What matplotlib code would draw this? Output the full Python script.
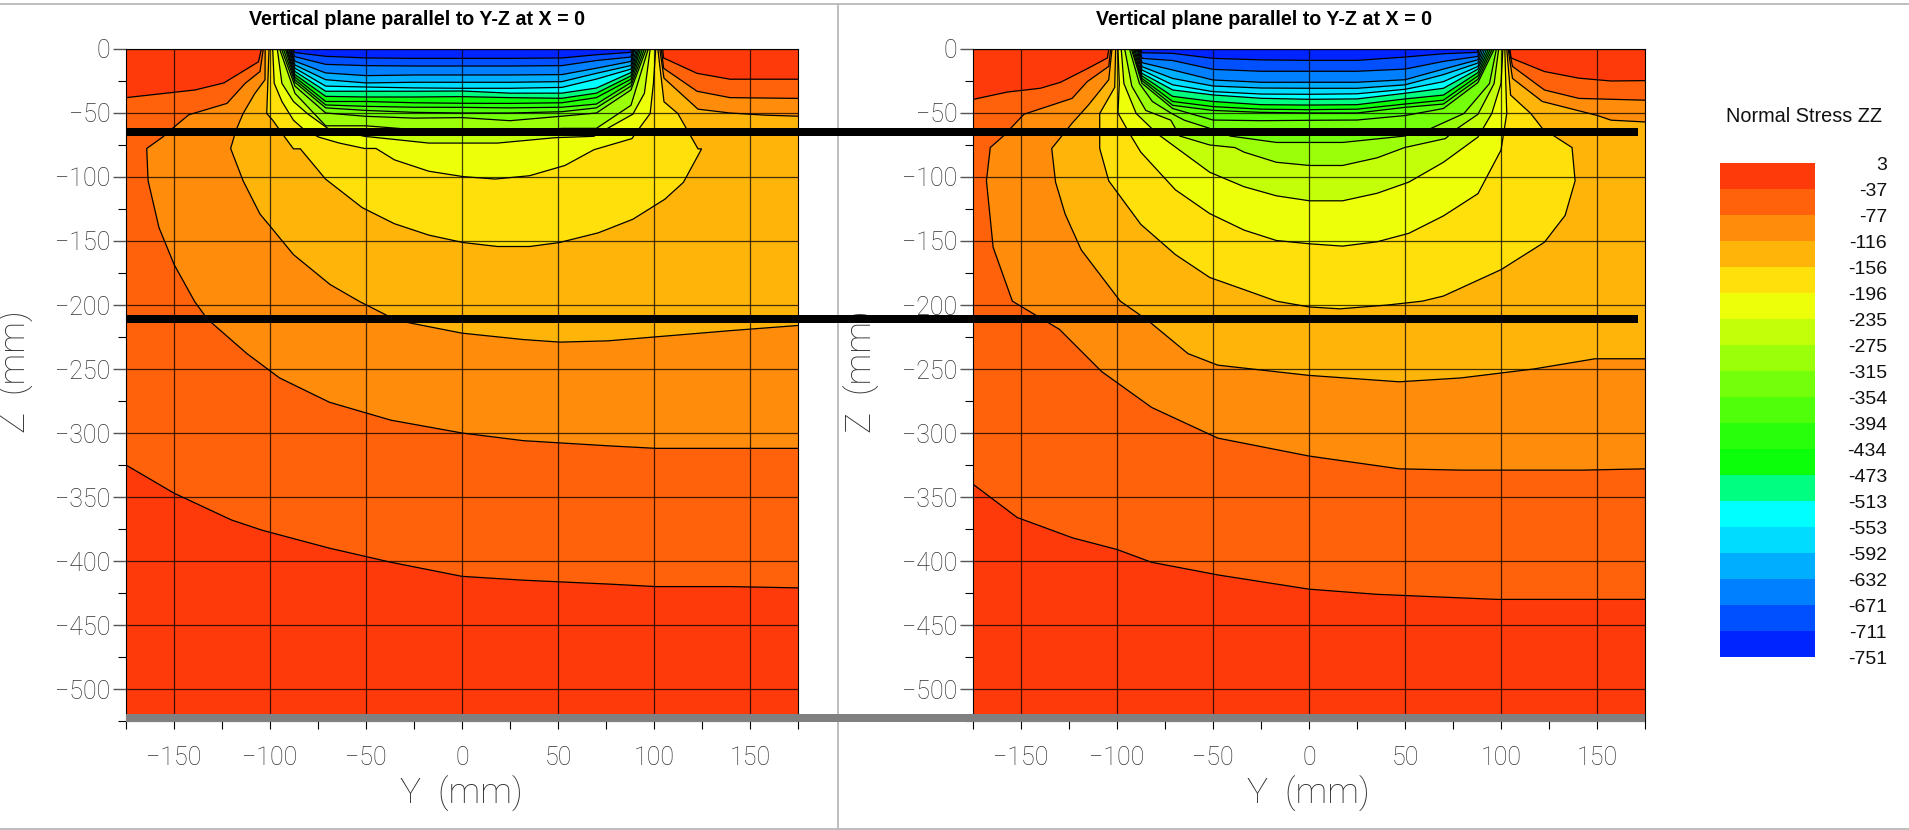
import matplotlib
matplotlib.use("Agg")
import matplotlib.pyplot as plt
from matplotlib.lines import Line2D
from matplotlib.patches import Rectangle

W, H = 1909, 830
LEVELS = [3, -37, -77, -116, -156, -196, -235, -275, -315, -354, -394, -434, -473, -513, -553, -592, -632, -671, -711, -751]
COLORS = ["#FF3A0A", "#FF620A", "#FF8C0A", "#FFB40A", "#FFE00A", "#EEFF0A", "#C4FF0A", "#9CFF0A", "#74FF0A", "#50FF0A",
          "#28FF0A", "#0CFF0A", "#00FF80", "#00FFFF", "#00DCFF", "#00AEFF", "#0080FF", "#0050FF", "#0024FF"]
TITLE = "Vertical plane parallel to Y-Z at X = 0"
YTICKS = [-150, -100, -50, 0, 50, 100, 150]
ZTICKS = [0, -50, -100, -150, -200, -250, -300, -350, -400, -450, -500]

# ---- left panel: contour polylines (Y mm, Z mm)
L_A = [[(-175, -38), (-139, -32), (-124, -26.5), (-106, -10), (-104.5, 0)],
       [(104.5, 0), (105, -7), (122.4, -19), (139.6, -23.6), (175, -23.6)],
       [(175, -421), (140, -420), (101, -420), (76, -418), (32, -415), (0, -412), (-37, -401), (-69, -390), (-104, -376),
        (-120, -368), (-150, -347), (-175, -325)]]
L_B = [[(-103.5, 0), (-105.2, -17.6), (-112.9, -26.8), (-122.4, -42.5), (-142.3, -51.4), (-149.9, -60.9), (-155.9, -68.8),
        (-164.2, -77.7), (-163.5, -102.9), (-157.8, -139.6), (-149.9, -168.5), (-139.2, -197.4), (-132.6, -211), (-112, -238),
        (-95, -257), (-69, -276), (-37, -290), (0, -300), (32, -306), (76, -310), (101, -312), (175, -312)],
       [(175, -38.6), (139.6, -38), (122.4, -33), (105, -15), (103.8, 0)]]
L_C = [[(-102.5, 0), (-102.6, -24), (-108, -35), (-114, -50.4), (-117.7, -63.5), (-120.5, -77.7), (-114, -103), (-105.2, -129),
        (-99.3, -139.6), (-87.8, -160.6), (-68.7, -184), (-53.2, -197.4), (-34, -212), (0, -222), (32, -227), (51, -229), (76, -228),
        (108, -224), (140, -220), (175, -216)],
       [(175, -52.5), (158, -51.7), (139.6, -50), (122.9, -47), (105.2, -22.8), (103, 0)]]
L_D = [[(-100.5, 0), (-101.7, -50.4), (-98.6, -55.6), (-92.6, -68.2), (-87.8, -78), (-84.2, -78), (-71.1, -101.6), (-52, -123.9),
        (-35.2, -136.5), (-17.3, -145.4), (0.6, -151.2), (18.5, -154.3), (35.2, -154.3), (50.7, -151.2), (71, -143.6), (89, -133),
        (105.7, -117.3), (115.3, -104.2), (124.8, -78), (122.9, -78), (116.4, -60.9), (112.4, -50.4), (105.2, -41.2), (102, 0)]]
L_E = [[(-98.6, 0), (-97.8, -26.8), (-93.8, -41), (-87.8, -55.6), (-83, -62), (-74.7, -68.8), (-63.9, -73.5), (-50.8, -77.7),
        (-44.8, -77.7), (-35.2, -86.6), (-17.3, -95.5), (0.6, -99.7), (17.3, -101.6), (35.2, -99), (53.6, -91), (68.7, -78.7),
        (88.5, -70), (92.6, -61.4), (98, -50.4), (99.7, -26.8), (100.9, 0)]]
L_F = [[(-96.2, 0), (-93.8, -26.8), (-87.8, -41), (-80.6, -50.4), (-69.9, -62), (-50.8, -68.2), (-17.3, -73.5), (0.6, -73.5),
        (18.5, -73.5), (48.4, -69.3), (68.7, -68.2), (75.8, -62), (89, -50.9), (95, -34.6), (98, 0)]]
L_COLS = [-87, -71, -50, -25, 0, 25, 52, 70, 88]
L_G = [-34.6, -60, -60, -63, -64.7, -65, -62, -62, -44]
L_H = [-29, -50, -52.6, -54, -53.6, -56, -52.5, -50, -32]
L_I = [-26, -46, -48, -49.5, -50, -50, -49, -46, -29]
L_J = [-24, -43.7, -44.8, -45.5, -45.6, -46, -45.5, -43, -26.2]
L_K = [-22, -41, -41, -42, -42.4, -42.5, -42, -38, -23.6]
L_L = [-20, -37, -37.5, -37.5, -37.2, -38, -38.5, -34.5, -21]
L_M = [-17.5, -33, -33, -33, -32.8, -34.5, -34.5, -30.5, -18.4]
L_N = [-15, -29, -29.7, -30.4, -30.7, -30.7, -30, -23.5, -15.7]
L_O = [-12.5, -24, -26.5, -26, -26, -26, -25.5, -19, -12.9]
L_P = [-9.5, -18.7, -20.8, -20.3, -20.3, -20.3, -20, -15, -9.7]
L_Q = [-6, -12, -13, -13.3, -13.3, -13.3, -13, -9, -6.3]
L_R = [-2.8, -5.7, -7, -7.3, -7.3, -7.3, -7, -4.5, -2.6]
L_INNER = [L_G, L_H, L_I, L_J, L_K, L_L, L_M, L_N, L_O, L_P, L_Q, L_R]
L_SURF_LEFT = [-95, -94, -93, -92, -91.4, -91, -90.4, -90, -89.5, -89.2, -88.8, -88.3]
L_SURF_RIGHT = [97, 96, 95, 94, 93, 92.2, 91.5, 90.8, 90, 89.5, 89, 88.3]

# ---- right panel
R_A = [[(-175, -39.4), (-157, -33.6), (-140, -30.7), (-129.4, -26), (-115, -15), (-105, -7), (-104.3, 0)],
       [(104.7, 0), (105.2, -7), (122.6, -17.6), (140.6, -22.8), (157.3, -25), (175, -24.7)],
       [(175, -430), (98, -430), (66, -428), (35, -426), (0, -422), (-47, -411), (-82, -401), (-100, -391), (-123, -382), (-152, -366),
        (-175, -340)]]
R_B = [[(-103.3, 0), (-104.3, -13.6), (-115.5, -25.5), (-123.4, -38.6), (-148.5, -51), (-159.2, -68), (-166, -77), (-168, -103),
        (-164.5, -155), (-154.5, -197), (-130, -219), (-108, -252), (-82, -280), (-47.5, -304), (0, -318), (47, -328), (79, -329),
        (142, -329), (175, -328)],
       [(175, -40), (140.6, -38.6), (122.6, -32), (106, -13.6), (104.2, 0)]]
R_C = [[(-102.6, 0), (-104.3, -24), (-115, -44), (-123.4, -58), (-134, -77.7), (-132, -104), (-127, -129), (-118.6, -157),
        (-98.3, -197), (-84, -212), (-63, -238), (-47.5, -247), (0, -255), (47, -260), (79, -257), (117, -250), (149, -242), (175, -242)],
       [(175, -57), (157.3, -55.6), (150.3, -52), (121.5, -41), (106, -23), (103.7, 0)]]
R_D = [[(-100.7, 0), (-101.2, -30), (-109, -50.4), (-109, -77.7), (-104.3, -103), (-87.6, -137), (-69.6, -160.6), (-51.7, -178.5),
        (-33.8, -188), (-17, -197), (0, -201.5), (16, -203), (41, -200), (59, -197), (70, -193), (100, -172.4), (122.6, -151),
        (133.4, -130), (138.6, -103), (137, -77), (121.5, -62), (115.5, -50.4), (105, -36), (103, 0)]]
R_E = [[(-99.5, 0), (-98.8, -27), (-99.5, -50), (-93.5, -66), (-87.6, -80.6), (-69.6, -110), (-51.7, -128.6), (-33.8, -141.5),
        (-17, -149.6), (0.3, -152.2), (17.5, -154), (35.5, -150.6), (52, -144), (70, -130.4), (88, -113), (100, -79), (103, -50.4),
        (102.5, -27), (102, 0)]]
R_F = [[(-97.8, 0), (-96.4, -27), (-90, -50.4), (-79.2, -66), (-69.6, -76.6), (-51.7, -96.3), (-33.8, -107.6), (-17, -114.7),
        (0.3, -118.6), (17.5, -118.6), (35.5, -112.7), (52, -104), (70, -88.5), (88, -68.8), (95.2, -50.4), (100, -27), (101, 0)]]
R_G = [[(-96, 0), (-92.3, -29), (-85, -48), (-72, -55.6), (-67.3, -68), (-51.7, -75), (-38.6, -77), (-33.8, -80.6), (-17, -88.5),
        (0.3, -91), (17.5, -91), (35.5, -85), (49.8, -77), (71, -70), (77.3, -62), (88, -51), (96.4, -27), (98.8, 0)]]
R_H = [[(-93.5, 0), (-88.3, -27), (-81.6, -41), (-72, -50), (-65, -55.6), (-51.7, -62), (-41, -68), (-17, -73), (0.3, -73),
        (17.5, -73), (49.8, -68), (63.6, -62), (80.7, -50.4), (94, -27), (97.6, 0)]]
R_COLS = [-87, -71, -50, -25, 0, 25, 50, 70, 88]
R_I = [-26.8, -46.5, -55.5, -56, -55.7, -55.5, -52, -46.5, -26.2]
R_J = [-24.7, -44, -48, -49.5, -50, -50, -45.6, -43, -23.6]
R_K = [-23, -41, -45, -47, -47.4, -47, -43, -40, -21]
R_L = [-21, -37, -41, -43.5, -43.8, -43.5, -39, -36, -18.4]
R_M = [-19, -32, -35.9, -38.5, -39.3, -39, -34.6, -30.7, -15.7]
R_N = [-16.4, -28, -33.3, -35.2, -35.4, -35, -31.5, -25.5, -13.6]
R_O = [-13.8, -23, -28.9, -30.5, -30.7, -30.7, -28, -20, -11]
R_P = [-10.7, -16.4, -24.2, -26, -26, -26, -24, -15.7, -8.4]
R_Q = [-7.3, -9, -15.9, -17.4, -17.4, -17.4, -15.7, -9.7, -5.8]
R_R = [-2.9, -3.4, -7.3, -8.5, -8.9, -8.9, -6.3, -3.7, -2.6]
R_INNER = [R_I, R_J, R_K, R_L, R_M, R_N, R_O, R_P, R_Q, R_R]
R_SURF_LEFT = [-92.5, -92, -91.3, -90.7, -90, -89.5, -89, -88.5, -88, -87.6]
R_SURF_RIGHT = [96.5, 95.5, 94.5, 93.5, 92.5, 91.5, 90.5, 89.5, 88.5, 87.7]


def fx(px):
    return px / W


def fy(py):
    return 1 - py / H


def inner_lines(cols, rows, left, right):
    return [[[(a, 0)] + list(zip(cols, r)) + [(b, 0)]] for r, a, b in zip(rows, left, right)]


def draw_panel(rect, outer, inner, label_x):
    l, t, w, h = rect
    ax = fig.add_axes([fx(l), fy(t + h), fx(w), h / H])
    ax.set_xlim(-175, 175)
    ax.set_ylim(-525, 0)
    ax.fill([-175, 175, 175, -175], [0, 0, -520, -520], color=COLORS[0], lw=0, zorder=1)
    for i, segs in enumerate(outer + inner):
        pts = [p for s in segs for p in s]
        ax.fill([p[0] for p in pts], [p[1] for p in pts], color=COLORS[i + 1], lw=0, zorder=1 + i * 0.01)
    for segs in outer + inner:
        for s in segs:
            ax.plot([p[0] for p in s], [p[1] for p in s], color="black", lw=0.9, zorder=2, solid_joinstyle="miter")
    ax.set_xticks(YTICKS)
    ax.set_xticklabels([str(v).replace("-", "\u2212") for v in YTICKS], **TICKFONT)
    ax.set_yticks(ZTICKS)
    ax.set_yticklabels([str(v).replace("-", "\u2212") for v in ZTICKS], **TICKFONT)
    ax.set_xticks([-175, -125, -75, -25, 25, 75, 125, 175], minor=True)
    ax.set_yticks([-25, -75, -125, -175, -225, -275, -325, -375, -425, -475, -525], minor=True)
    ax.tick_params(axis="x", which="both", direction="out", length=8 * 0.72, width=0.8, pad=12, color="black")
    ax.tick_params(axis="y", which="major", direction="out", length=13 * 0.72, width=1.0, pad=2, color="#555555")
    ax.tick_params(axis="y", which="minor", direction="out", length=8 * 0.72, width=0.8, color="black")
    ax.grid(True, which="major", color="black", lw=0.9, alpha=0.75, zorder=3)
    ax.set_axisbelow(False)
    for sp in ax.spines.values():
        sp.set_linewidth(0.8)
        sp.set_zorder(4)
    fig.text(fx(l + w / 2 - 45), fy(25), TITLE, ha="center", va="baseline", fontsize=14.1, fontweight="bold", family="Liberation Sans")
    fig.text(fx(l + w / 2 - 1), fy(794), "Y  (mm)", ha="center", va="center", **LABELFONT)
    fig.text(fx(label_x), fy(372), "Z  (mm)", ha="center", va="center", rotation=90, **LABELFONT)
    return ax


plt.rcParams["font.family"] = ["Liberation Sans", "DejaVu Sans"]
TICKFONT = dict(family="Roboto", fontweight="light", fontsize=18, color="#333333")
LABELFONT = dict(family="Roboto", fontweight="light", fontsize=25.5, color="#333333")

fig = plt.figure(figsize=(W / 100, H / 100), dpi=100, facecolor="white")

draw_panel((126, 49, 672, 672), [L_A, L_B, L_C, L_D, L_E, L_F],
           inner_lines(L_COLS, L_INNER, L_SURF_LEFT, L_SURF_RIGHT), 16)
draw_panel((973, 49, 672, 672), [R_A, R_B, R_C, R_D, R_E, R_F, R_G, R_H],
           inner_lines(R_COLS, R_INNER, R_SURF_LEFT, R_SURF_RIGHT), 862)

# colour scale
cax = fig.add_axes([fx(1720), fy(657), fx(95), 494 / H])
for i, c in enumerate(COLORS):
    cax.barh(i, 1, height=1, left=0, color=c, lw=0)
cax.set_xlim(0, 1)
cax.set_ylim(18.5, -0.5)
cax.set_xticks([])
cax.set_yticks([i - 0.5 for i in range(20)])
cax.set_yticklabels([str(v) for v in LEVELS], fontsize=14, ha="right", family="Liberation Sans", color="#111111")
cax.yaxis.tick_right()
cax.tick_params(axis="y", length=0, pad=51.8)
for sp in cax.spines.values():
    sp.set_visible(False)
fig.text(fx(1804.5), fy(117), "Normal Stress ZZ", ha="center", va="center", fontsize=14.3, family="Liberation Sans", color="#111111")


def band(x0, x1, y0, y1, color):
    fig.add_artist(Rectangle((fx(x0), fy(y1)), fx(x1 - x0), (y1 - y0) / H, transform=fig.transFigure,
                             facecolor=color, edgecolor="none", zorder=10))


band(126, 1638, 128, 136, "black")
band(126, 1638, 315, 323, "black")
band(126, 1645, 714, 722, "#808080")

for xs, ys in [((0, 1909), (4.5, 4.5)), ((0, 1909), (828.5, 828.5)), ((837.5, 837.5), (4.5, 829))]:
    fig.add_artist(Line2D([fx(v) for v in xs], [fy(v) for v in ys], transform=fig.transFigure, color="#BEBEBE", lw=1.4))

fig.savefig("out.png", dpi=100)
